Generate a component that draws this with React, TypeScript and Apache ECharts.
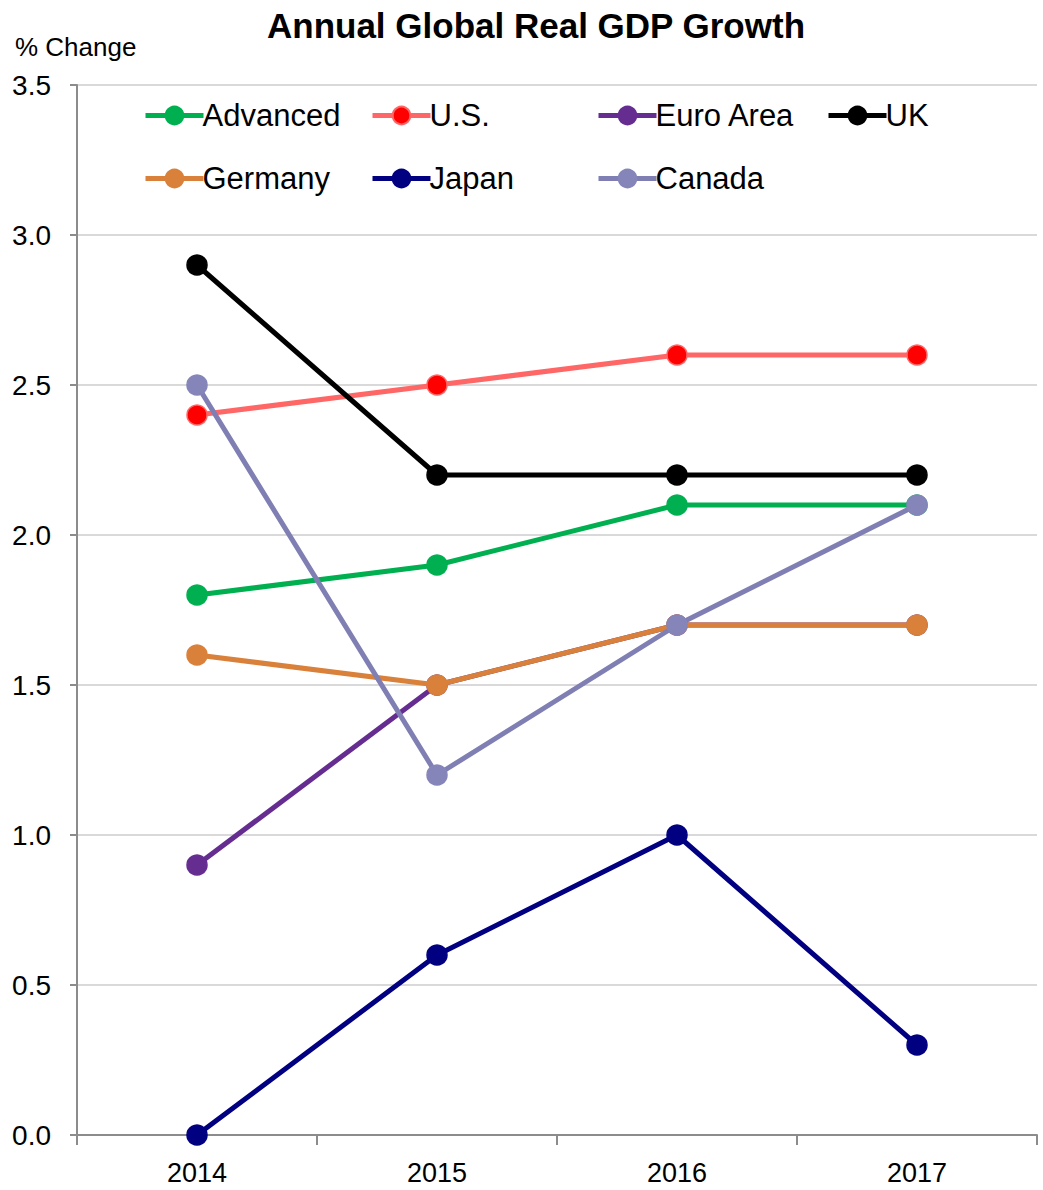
import React, { useEffect, useRef } from "react";
import * as echarts from "echarts";

const years = ["2014", "2015", "2016", "2017"];
const seriesNames = ["Advanced", "U.S.", "Euro Area", "UK", "Germany", "Japan", "Canada"];
const advanced = [1.8, 1.9, 2.1, 2.1];
const us = [2.4, 2.5, 2.6, 2.6];
const euroArea = [0.9, 1.5, 1.7, 1.7];
const uk = [2.9, 2.2, 2.2, 2.2];
const germany = [1.6, 1.5, 1.7, 1.7];
const japan = [0.0, 0.6, 1.0, 0.3];
const canada = [2.5, 1.2, 1.7, 2.1];
const yTicks = [0, 0.5, 1, 1.5, 2, 2.5, 3, 3.5];

const FONT = '"Liberation Sans Narrow", "Arial Narrow", "Liberation Sans", Arial, sans-serif';

const styles = [
  { line: "#00B050", fill: "#00B050", border: "#00B050" },
  { line: "#FF6666", fill: "#FF0000", border: "#FF6666" },
  { line: "#662D91", fill: "#662D91", border: "#662D91" },
  { line: "#000000", fill: "#000000", border: "#000000" },
  { line: "#D9803A", fill: "#D9803A", border: "#D9803A" },
  { line: "#000080", fill: "#000080", border: "#000080" },
  { line: "#7F7FB3", fill: "#8585BA", border: "#8585BA" },
];

const values = [advanced, us, euroArea, uk, germany, japan, canada];

const legendCols = [143, 370, 596, 826];
const legendRows = [100, 163];

export default function App() {
  const ref = useRef<HTMLDivElement>(null);

  useEffect(() => {
    if (!ref.current) return;
    const chart = echarts.init(ref.current, null, { renderer: "svg" });

    const legends = seriesNames.map((name, i) => ({
      data: [name],
      left: legendCols[i % 4],
      top: legendRows[Math.floor(i / 4)],
      itemWidth: 58,
      itemHeight: 22,
      itemGap: 0,
      padding: 0,
      lineStyle: { width: 5 },
      textStyle: { fontFamily: FONT, fontSize: 31, color: "#000", padding: [0, 0, 0, -6] },
    }));

    chart.setOption({
      animation: false,
      backgroundColor: "#fff",
      title: {
        text: "Annual Global Real GDP Growth",
        left: 531,
        textAlign: "center",
        top: 3,
        textStyle: { fontFamily: FONT, fontSize: 35, fontWeight: "bold", color: "#000" },
      },
      graphic: [
        {
          type: "text",
          left: 15,
          top: 34,
          style: { text: "% Change", font: `26px ${FONT}`, fill: "#000" },
        },
      ],
      legend: legends,
      grid: { left: 77, right: 6, top: 85, bottom: 55, containLabel: false },
      xAxis: {
        type: "category",
        data: years,
        boundaryGap: true,
        axisLine: { lineStyle: { color: "#8c8c8c", width: 2 } },
        axisTick: { show: true, length: 10, lineStyle: { color: "#8c8c8c", width: 2 } },
        axisLabel: { fontFamily: FONT, fontSize: 27, color: "#000", margin: 24 },
      },
      yAxis: {
        type: "value",
        min: yTicks[0],
        max: yTicks[yTicks.length - 1],
        interval: 0.5,
        axisLine: { show: true, lineStyle: { color: "#8c8c8c", width: 2 } },
        axisTick: { show: true, length: 7, lineStyle: { color: "#8c8c8c", width: 2 } },
        axisLabel: {
          fontFamily: FONT,
          fontSize: 28,
          color: "#000",
          margin: 26,
          formatter: (v: number) => v.toFixed(1),
        },
        splitLine: { lineStyle: { color: "#d9d9d9", width: 2 } },
      },
      series: seriesNames.map((name, i) => ({
        name,
        type: "line",
        data: values[i],
        symbol: "circle",
        symbolSize: 20,
        z: 2 + i,
        lineStyle: { color: styles[i].line, width: 5 },
        itemStyle: { color: styles[i].fill, borderColor: styles[i].border, borderWidth: 1.5 },
        emphasis: { disabled: true },
      })),
    });

    return () => chart.dispose();
  }, []);

  return <div ref={ref} style={{ width: 1043, height: 1190, position: "absolute", left: 0, top: 0 }} />;
}
